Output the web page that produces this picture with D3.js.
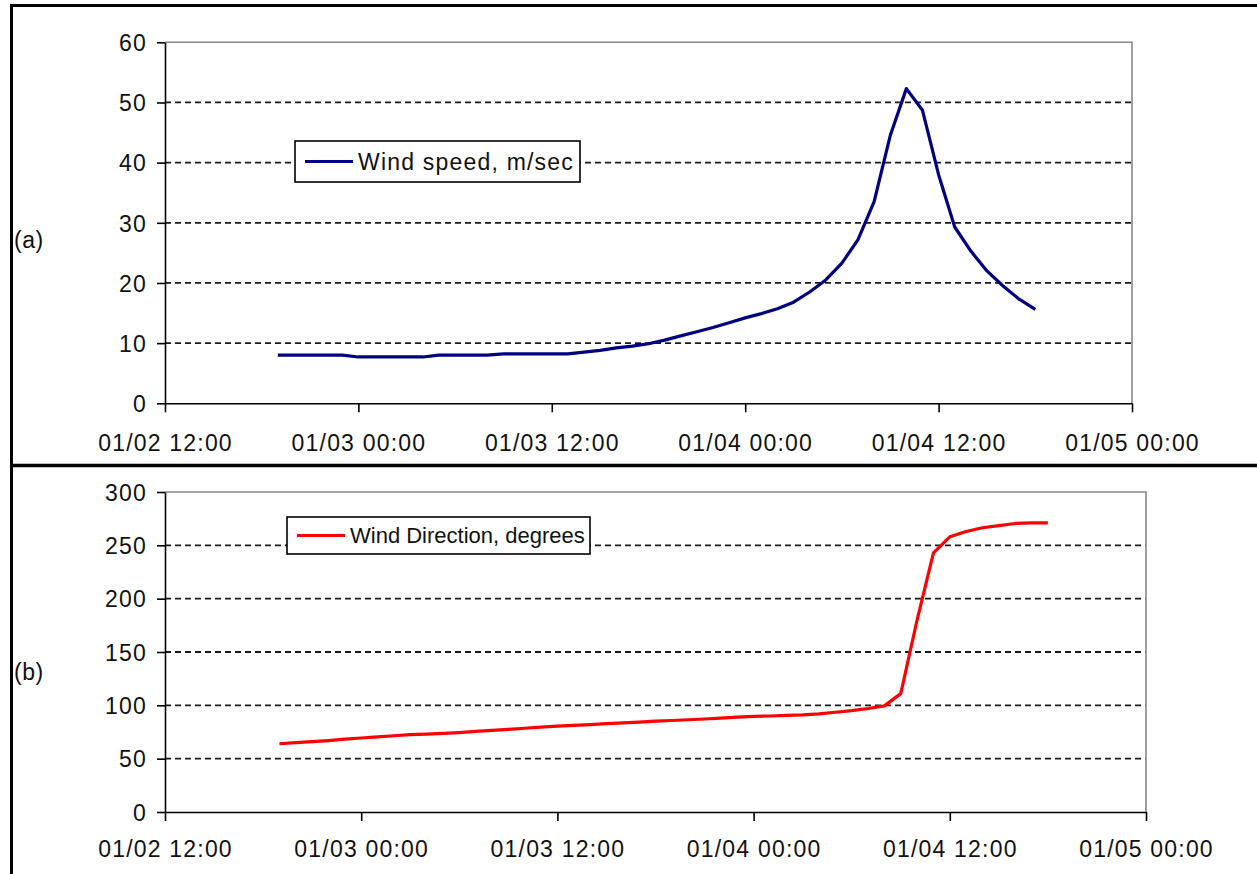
<!DOCTYPE html>
<html><head><meta charset="utf-8">
<script src="https://cdn.jsdelivr.net/npm/d3@7"></script>
<style>
body{margin:0;background:#fff;}
svg{display:block;font-family:"Liberation Sans",Arial,sans-serif;}
</style></head><body>
<svg id="c" width="1257" height="874"></svg>
<script>
const times = [
"01/02 19:00","01/02 20:00","01/02 21:00","01/02 22:00","01/02 23:00",
"01/03 00:00","01/03 01:00","01/03 02:00","01/03 03:00","01/03 04:00","01/03 05:00",
"01/03 06:00","01/03 07:00","01/03 08:00","01/03 09:00","01/03 10:00","01/03 11:00",
"01/03 12:00","01/03 13:00","01/03 14:00","01/03 15:00","01/03 16:00","01/03 17:00",
"01/03 18:00","01/03 19:00","01/03 20:00","01/03 21:00","01/03 22:00","01/03 23:00",
"01/04 00:00","01/04 01:00","01/04 02:00","01/04 03:00","01/04 04:00","01/04 05:00",
"01/04 06:00","01/04 07:00","01/04 08:00","01/04 09:00","01/04 10:00","01/04 11:00",
"01/04 12:00","01/04 13:00","01/04 14:00","01/04 15:00","01/04 16:00","01/04 17:00",
"01/04 18:00"];
const windSpeed = [
8.0,8.0,8.0,8.0,8.0,
7.7,7.7,7.7,7.7,7.7,8.0,8.0,8.0,8.0,8.2,8.2,8.2,
8.2,8.2,8.5,8.8,9.2,9.5,9.9,10.5,11.2,11.9,12.6,13.4,
14.2,14.9,15.7,16.8,18.5,20.5,23.3,27.2,33.5,44.5,52.3,48.7,38.0,29.3,25.3,22.0,19.5,17.3,15.6];
const windDirection = [
64,65,66,67,68.3,
69.4,70.5,71.5,72.5,73,73.7,74.5,75.5,76.5,77.5,78.5,79.5,
80.5,81.2,82,82.8,83.5,84.3,85.2,85.8,86.5,87.2,88,89,
89.7,90,90.5,91,92,93.5,95,97,99.5,111,180,243,258,263,266.5,268.5,270.5,271,271];
const xTickLabels = ["01/02 12:00","01/03 00:00","01/03 12:00","01/04 00:00","01/04 12:00","01/05 00:00"];
const speedTicks = [0,10,20,30,40,50,60];
const directionTicks = [0,50,100,150,200,250,300];
const panelLabels = ["(a)","(b)"];
const legendLabels = ["Wind speed, m/sec","Wind Direction, degrees"];

const parse = d3.utcParse("%m/%d %H:%M");
const fmt = d3.utcFormat("%m/%d %H:%M");
const xTicks = xTickLabels.map(parse);
const svg = d3.select("#c");
const FS = 23, LS = "1.2px";

const panels = [
  {values: windSpeed, ticks: speedTicks, color:"#000080", left:165, right:1132, top:42.3, bottom:403.3,
   xlab:39, label:panelLabels[0], labelY:240, legend:legendLabels[0], legFS:23, legLS:"1.2px",
   box:{x:295,y:141,w:285,h:41}, lx1:305, lx2:353, tx:358},
  {values: windDirection, ticks: directionTicks, color:"#ff0000", left:165, right:1146, top:492, bottom:812,
   xlab:36.5, label:panelLabels[1], labelY:672, legend:legendLabels[1], legFS:22, legLS:"0px",
   box:{x:287,y:517,w:303,h:37}, lx1:297, lx2:345, tx:350}
];

panels.forEach(p => {
  const x = d3.scaleUtc().domain([xTicks[0], xTicks[xTicks.length-1]]).range([p.left, p.right]);
  const y = d3.scaleLinear().domain([p.ticks[0], p.ticks[p.ticks.length-1]]).range([p.bottom, p.top]);
  const g = svg.append("g");
  g.selectAll("line.grid").data(p.ticks.slice(1, -1)).enter().append("line")
    .attr("x1", p.left).attr("x2", p.right).attr("y1", d=>y(d)).attr("y2", d=>y(d))
    .attr("stroke", "#1a1a1a").attr("stroke-width", 1.8).attr("stroke-dasharray", "6,4");
  g.append("path").attr("d", `M${p.left},${y(p.ticks[p.ticks.length-1])}H${p.right}V${p.bottom}`)
    .attr("fill","none").attr("stroke","#888").attr("stroke-width",1.6);
  const ya = g.append("g").attr("transform", `translate(${p.left},0)`)
    .call(d3.axisLeft(y).tickValues(p.ticks).tickSize(8).tickSizeOuter(0).tickPadding(10));
  const xa = g.append("g").attr("transform", `translate(0,${p.bottom})`)
    .call(d3.axisBottom(x).tickValues(xTicks).tickFormat(fmt).tickSize(9).tickSizeOuter(0));
  [ya, xa].forEach(a => {
    a.select(".domain").attr("stroke","#000").attr("stroke-width",1.6);
    a.selectAll(".tick line").attr("stroke","#000").attr("stroke-width",1.6);
    a.selectAll("text").attr("font-size",FS).attr("fill","#111").attr("letter-spacing",LS)
      .attr("font-family",'"Liberation Sans",Arial,sans-serif');
  });
  ya.selectAll("text").attr("dy","0.36em");
  xa.selectAll("text").attr("y", p.xlab).attr("dy","0.36em");
  const line = d3.line().x((d,i)=>x(parse(times[i]))).y(d=>y(d));
  g.append("path").datum(p.values).attr("d", line).attr("fill","none")
    .attr("stroke", p.color).attr("stroke-width", 3.2).attr("stroke-linejoin","round");
  g.append("rect").attr("x",p.box.x).attr("y",p.box.y).attr("width",p.box.w).attr("height",p.box.h)
    .attr("fill","#fff").attr("stroke","#000").attr("stroke-width",1.6);
  const ly = p.box.y + p.box.h/2;
  g.append("line").attr("x1",p.lx1).attr("x2",p.lx2).attr("y1",ly).attr("y2",ly)
    .attr("stroke",p.color).attr("stroke-width",3.2);
  g.append("text").attr("x",p.tx).attr("y",ly).attr("dy","0.36em").attr("font-size",p.legFS)
    .attr("letter-spacing",p.legLS).attr("fill","#111").text(p.legend);
  g.append("text").attr("x",14).attr("y",p.labelY).attr("dy","0.36em").attr("font-size",FS)
    .attr("letter-spacing","0.5px").attr("fill","#111").text(p.label);
});

svg.append("line").attr("x1",10).attr("x2",1257).attr("y1",5.5).attr("y2",5.5).attr("stroke","#000").attr("stroke-width",3);
svg.append("line").attr("x1",11.5).attr("x2",11.5).attr("y1",4).attr("y2",874).attr("stroke","#000").attr("stroke-width",3);
svg.append("line").attr("x1",10).attr("x2",1257).attr("y1",465.5).attr("y2",465.5).attr("stroke","#000").attr("stroke-width",3.5);
</script>
</body></html>
